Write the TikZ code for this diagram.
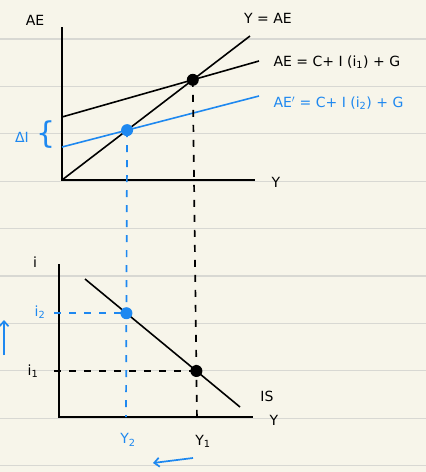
\documentclass[tikz,border=0pt]{standalone}
\usepackage{fontspec}
\setmainfont{DejaVu Sans}
\usetikzlibrary{arrows.meta}
\definecolor{paper}{HTML}{F7F5EA}
\definecolor{ruling}{HTML}{D8D8D3}
\definecolor{penblue}{HTML}{1E88F0}

\begin{document}
\begin{tikzpicture}[x=1pt,y=-1pt,every node/.style={font=\fontsize{14}{14}\selectfont},
  curve/.style={line width=1.6pt},
  axis/.style={line width=2pt},
  guide/.style={line width=1.7pt,dash pattern=on 7pt off 8pt},
  dot/.style={circle,fill,inner sep=0pt,minimum size=12pt},
  hint/.style={penblue,line width=1.7pt,-{Straight Barb[length=5pt,width=9pt]}}]
  \fill[paper] (0,0) rectangle (426,472);
  \useasboundingbox (0,0) rectangle (426,472);
  \foreach \k in {0,...,9}
    \draw[ruling,line width=1.2pt] (0,{39+47.4*\k}) -- (426,{39+47.4*\k});

  % AE diagram
  \coordinate (O1) at (62,180);
  \coordinate (AEtop) at (62,27);
  \coordinate (Yend1) at (255,180);
  \coordinate (diag) at (250,36);
  \coordinate (ae0) at (62,117);
  \coordinate (ae1) at (259,61);
  \coordinate (aep0) at (62,147);
  \coordinate (aep1) at (259,96);
  \draw[axis] (AEtop) -- (O1) -- (Yend1);
  \draw[curve] (O1) -- (diag);
  \draw[curve] (ae0) -- (ae1);
  \draw[curve,penblue] (aep0) -- (aep1);
  \coordinate (e1) at (intersection of ae0--ae1 and O1--diag);
  \coordinate (e2) at (intersection of aep0--aep1 and O1--diag);
  \node (lblAE) at (35,20) {AE};
  \node (lblY) at (276,182) {Y};
  \node (lbl45) at (268,18) {Y = AE};
  \node[anchor=west] (lblAE1) at (270,62) {AE = C+ I (i\textsubscript{1}) + G};
  \node[anchor=west,penblue] (lblAE2) at (270,103) {AE$'$ = C+ I (i\textsubscript{2}) + G};
  \node[penblue] (lblDI) at (22,137) {ΔI};
  \node[penblue,font=\fontsize{30}{30}\selectfont] (brace) at (46,135) {\{};

  % IS diagram
  \coordinate (O2) at (59,417);
  \coordinate (itop) at (59,264);
  \coordinate (Yend2) at (253,417);
  \coordinate (is0) at (85,279);
  \coordinate (is1) at (240,407);
  \coordinate (Y1foot) at (197,422);
  \coordinate (Y2foot) at (126,417);
  \draw[axis] (itop) -- (O2) -- (Yend2);
  \draw[curve] (is0) -- (is1);
  \coordinate (f1) at (intersection of e1--Y1foot and is0--is1);
  \coordinate (f2) at (intersection of e2--Y2foot and is0--is1);
  \draw[guide] (e1) -- (Y1foot);
  \draw[guide,penblue] (e2) -- (Y2foot);
  \draw[guide] ([xshift=-5pt]f1 -| O2) -- (f1);
  \draw[guide,penblue] ([xshift=-5pt]f2 -| O2) -- (f2);
  \node[dot] (E1) at (e1) {};
  \node[dot,penblue] (E2) at (e2) {};
  \node[dot] (F1) at (f1) {};
  \node[dot,penblue] (F2) at (f2) {};
  \node (lbli) at (35,262) {i};
  \node (lblY2) at (274,420) {Y};
  \node (lblIS) at (267,396) {IS};
  \node[penblue] (lbli2) at (40,312) {i\textsubscript{2}};
  \node (lbli1) at (33,371) {i\textsubscript{1}};
  \node[penblue] (lblYtwo) at (128,440) {Y\textsubscript{2}};
  \node (lblYone) at (203,441) {Y\textsubscript{1}};

  % shifts
  \coordinate (upfrom) at (4,355);
  \coordinate (upto) at (4,320);
  \coordinate (leftfrom) at (193,458);
  \coordinate (leftto) at (153,463);
  \draw[hint] (upfrom) -- (upto);
  \draw[hint] (leftfrom) -- (leftto);
\end{tikzpicture}
\end{document}
